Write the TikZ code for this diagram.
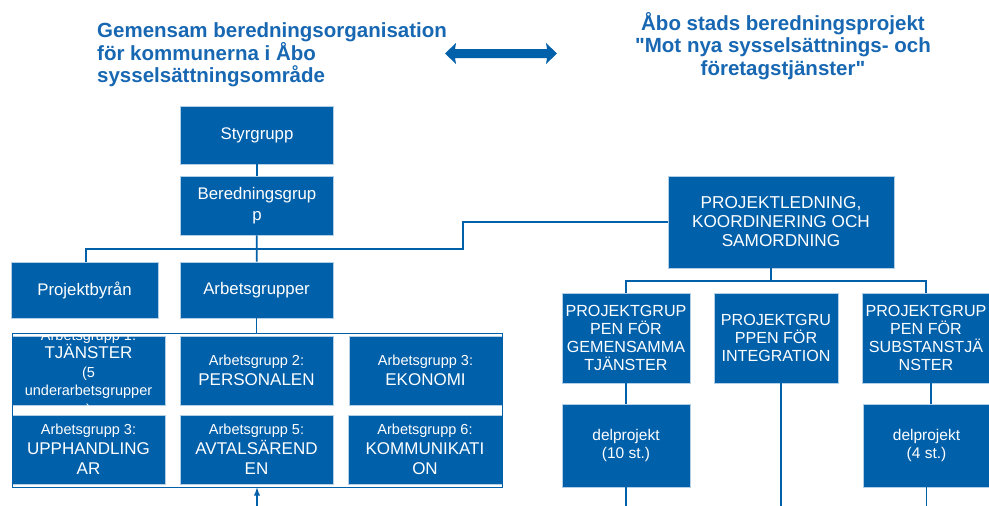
\documentclass[tikz,border=0pt]{standalone}
\usepackage{fontspec}
\setmainfont{Liberation Sans}[Ligatures=TeXOff]
\usepackage{tikz}
\usetikzlibrary{arrows}

\definecolor{orgblue}{RGB}{0,96,170}
\definecolor{titleblue}{RGB}{23,103,178}

\tikzset{
  orgbox/.style = {fill=orgblue, draw=white!70!orgblue, line width=0.6pt,
                   text=white, align=center, inner sep=0pt},
  conn/.style   = {draw=orgblue, line width=1.8pt},
  headline/.style = {text=titleblue, inner sep=0pt,
                     font=\bfseries\fontsize{20.5}{22.5}\selectfont}
}
\newcommand{\agtitle}[1]{{\fontsize{14.5}{20}\selectfont #1}}

\begin{document}
\begin{tikzpicture}[x=1pt, y=-1pt]
\useasboundingbox (0,0) rectangle (989,506);

% titles
\node[headline, anchor=west, align=left] (titleL) at (97,55)
  {Gemensam beredningsorganisation\\ för kommunerna i Åbo\\ sysselsättningsområde};
\node[headline, align=center] (titleR) at (783,46)
  {Åbo stads beredningsprojekt\\ "Mot nya sysselsättnings- och\\ företagstjänster"};
\fill[orgblue] (445,53.5) -- (456,43) -- (455,49) -- (547,49) -- (546,43)
  -- (557,53.5) -- (546,64) -- (547,58) -- (455,58) -- (456,64) -- cycle;

% left organisation
\node[orgbox, minimum width=153pt, minimum height=58pt,
      font=\fontsize{16.8}{19.5}\selectfont] (styr) at (257,135) {Styrgrupp};
\node[orgbox, minimum width=153pt, minimum height=59pt,
      font=\fontsize{16.8}{21}\selectfont] (bered) at (257,205.5) {Beredningsgrup\\ p};
\node[orgbox, minimum width=147pt, minimum height=56pt,
      font=\fontsize{16.8}{19.5}\selectfont] (byra) at (84.5,290) {Projektbyrån};
\node[orgbox, minimum width=153pt, minimum height=56pt,
      font=\fontsize{16.8}{19.5}\selectfont] (arbg) at (256.5,290) {Arbetsgrupper};

\tikzset{agbox/.style={orgbox, minimum width=153pt, minimum height=69pt,
                       font=\fontsize{17}{20}\selectfont}}
\node[agbox] (ag1) at (88.5,370.5) {};
\begin{scope}
  \clip (ag1.south west) rectangle (ag1.north east);
  \node[text=white, align=center, inner sep=0pt, font=\fontsize{14.5}{18.5}\selectfont]
    at ([yshift=-3pt]ag1.center) {Arbetsgrupp 1:\\ {\fontsize{17}{18.5}\selectfont TJÄNSTER}\\ (5\\ underarbetsgrupper\\ )};
\end{scope}
\node[agbox] (ag2) at (256.5,370.5) {\agtitle{Arbetsgrupp 2:}\\ PERSONALEN};
\node[agbox] (ag3) at (425.5,370.5) {\agtitle{Arbetsgrupp 3:}\\ EKONOMI};
\node[agbox] (ag4) at (88.5,449.5) {\agtitle{Arbetsgrupp 3:}\\ UPPHANDLING\\ AR};
\node[agbox] (ag5) at (256.5,449.5) {\agtitle{Arbetsgrupp 5:}\\ AVTALSÄREND\\ EN};
\node[agbox, minimum width=154pt] (ag6) at (425,449.5) {\agtitle{Arbetsgrupp 6:}\\ KOMMUNIKATI\\ ON};
\node[draw=orgblue, line width=1pt, inner sep=0pt, minimum width=490pt,
      minimum height=154pt] (cont) at (257,410) {};

% right project
\node[orgbox, minimum width=226pt, minimum height=92pt,
      font=\fontsize{17.2}{19}\selectfont] (pl) at (781,222)
  {PROJEKTLEDNING,\\ KOORDINERING OCH\\ SAMORDNING};
\tikzset{pgbox/.style={orgbox, minimum width=128pt, minimum height=90pt,
                       font=\fontsize{16.1}{17.7}\selectfont}}
\node[pgbox] (pga) at (626,338) {PROJEKTGRUP\\ PEN FÖR\\ GEMENSAMMA\\ TJÄNSTER};
\node[pgbox, minimum width=124pt] (pgb) at (776,338) {PROJEKTGRU\\ PPEN FÖR\\ INTEGRATION};
\node[pgbox] (pgc) at (926,338) {PROJEKTGRUP\\ PEN FÖR\\ SUBSTANSTJÄ\\ NSTER};
\node[orgbox, minimum width=128pt, minimum height=83pt,
      font=\fontsize{15.5}{18}\selectfont] (dpa) at (626,445.5) {delprojekt\\ (10 st.)};
\node[orgbox, minimum width=127pt, minimum height=83pt,
      font=\fontsize{15.5}{18}\selectfont] (dpc) at (926.5,445.5) {delprojekt\\ (4 st.)};

% connectors
\coordinate (bend) at (463,249);
\coordinate (rowR) at (0,281);
\coordinate (floor) at (0,506);
\coordinate (inflow) at (257,506);
\draw[conn] (styr) -- (bered);
\draw[conn] (bered) -- (arbg);
\draw[conn] ([xshift=1.5pt]byra.north) |- (bend) |- (pl.west);
\draw[conn] (arbg.south) -- (arbg.south |- cont.north);
\draw[conn, -latex] (inflow) -- (cont.south);
\draw[conn] ([xshift=-10pt]pl.south) -- ([xshift=-10pt]pl.south |- rowR);
\draw[conn] (pga.north) |- (rowR -| pgc.north) -- (pgc.north);
\draw[conn] (pga) -- (dpa);
\draw[conn] ([xshift=5pt]pgc.south) -- ([xshift=5pt]pgc.south |- dpc.north);
\draw[conn] (dpa.south) -- (dpa.south |- floor);
\draw[conn] (dpc.south) -- (dpc.south |- floor);
\draw[conn] ([xshift=5pt]pgb.south) -- ([xshift=5pt]pgb.south |- floor);
\end{tikzpicture}
\end{document}
